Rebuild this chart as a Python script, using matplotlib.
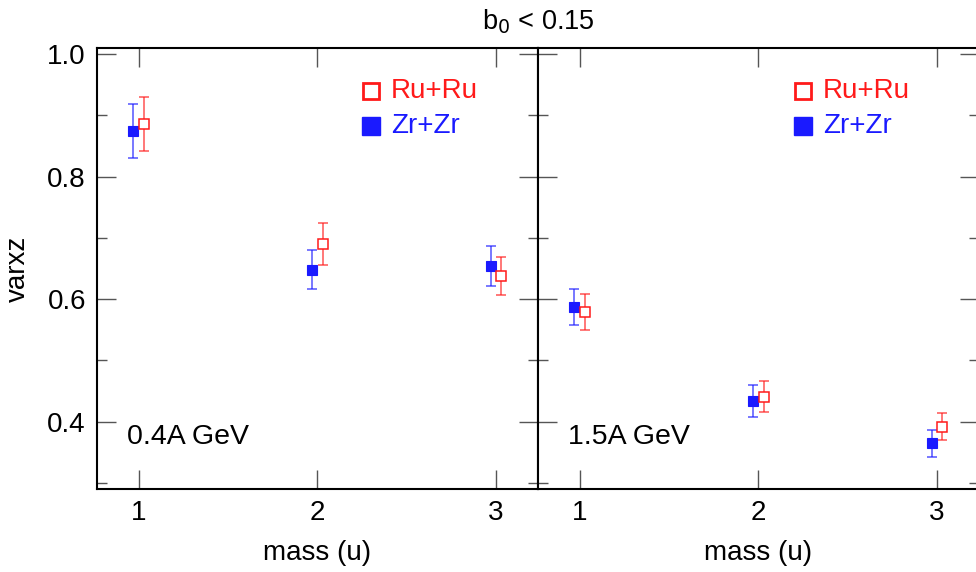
import numpy as np
import matplotlib.pyplot as plt
from matplotlib.ticker import MultipleLocator

plt.rcParams['font.family'] = ['Liberation Sans', 'DejaVu Sans']

# data
mass = np.array([1, 2, 3])
panels = ['0.4A GeV', '1.5A GeV']
ru_val = [[0.886, 0.690, 0.637], [0.579, 0.441, 0.392]]
ru_err = [[0.044, 0.035, 0.031], [0.030, 0.025, 0.022]]
zr_val = [[0.874, 0.648, 0.654], [0.587, 0.434, 0.365]]
zr_err = [[0.044, 0.032, 0.033], [0.029, 0.026, 0.022]]

red = '#ff1a1a'
blue = '#1a1aff'

fig = plt.figure(figsize=(9.76, 5.72), dpi=100)
w = 441 / 976
h = 441 / 572
b = 1 - 489 / 572
axes = [fig.add_axes([97 / 976, b, w, h]),
        fig.add_axes([538 / 976, b, w, h])]

leg_x = [0.621, 0.601]
for i, ax in enumerate(axes):
    ax.errorbar(mass - 0.03, zr_val[i], yerr=zr_err[i], fmt='none',
                ecolor=blue, alpha=0.75, elinewidth=1.1, capsize=3.8, capthick=1.1)
    ax.errorbar(mass + 0.03, ru_val[i], yerr=ru_err[i], fmt='none',
                ecolor=red, alpha=0.75, elinewidth=1.1, capsize=3.8, capthick=1.1)
    ax.plot(mass - 0.03, zr_val[i], 's', color=blue, ms=7.4, mew=0.8, mec=blue)
    ax.plot(mass + 0.03, ru_val[i], 's', mfc='white', mec=red, ms=7.0, mew=1.1)

    ax.set_xlim(0.766, 3.236)
    ax.set_ylim(0.29, 1.01)
    ax.xaxis.set_major_locator(MultipleLocator(1))
    ax.yaxis.set_major_locator(MultipleLocator(0.2))
    ax.yaxis.set_minor_locator(MultipleLocator(0.1))
    ax.tick_params(which='both', direction='in', top=True, right=True,
                   color='#555555', width=1.0, labelsize=20)
    ax.tick_params(which='major', length=14, pad=8)
    ax.tick_params(which='minor', length=7)
    for s in ax.spines.values():
        s.set_linewidth(1.5)
    ax.set_xlabel('mass (u)', fontsize=20, labelpad=10)

    # legend drawn by hand
    ax.plot([leg_x[i]], [0.9025], 's', mfc='white', mec=red, ms=12, mew=2,
            transform=ax.transAxes, clip_on=False)
    ax.plot([leg_x[i]], [0.822], 's', color=blue, ms=12.5,
            transform=ax.transAxes, clip_on=False)
    ax.text(leg_x[i] + 0.045, 0.9025, 'Ru+Ru', color=red, fontsize=20,
            va='center', transform=ax.transAxes)
    ax.text(leg_x[i] + 0.045, 0.822, 'Zr+Zr', color=blue, fontsize=20,
            va='center', transform=ax.transAxes)
    ax.text(0.068, 0.119, panels[i], fontsize=20.5, va='center',
            transform=ax.transAxes)

axes[1].tick_params(labelleft=False)
axes[0].set_ylabel('varxz', fontsize=20, labelpad=12)
fig.text(538 / 976, 1 - 22 / 572, r'b$_0$ < 0.15', fontsize=19.5,
         ha='center', va='center')

plt.savefig('out.png', dpi=100)
